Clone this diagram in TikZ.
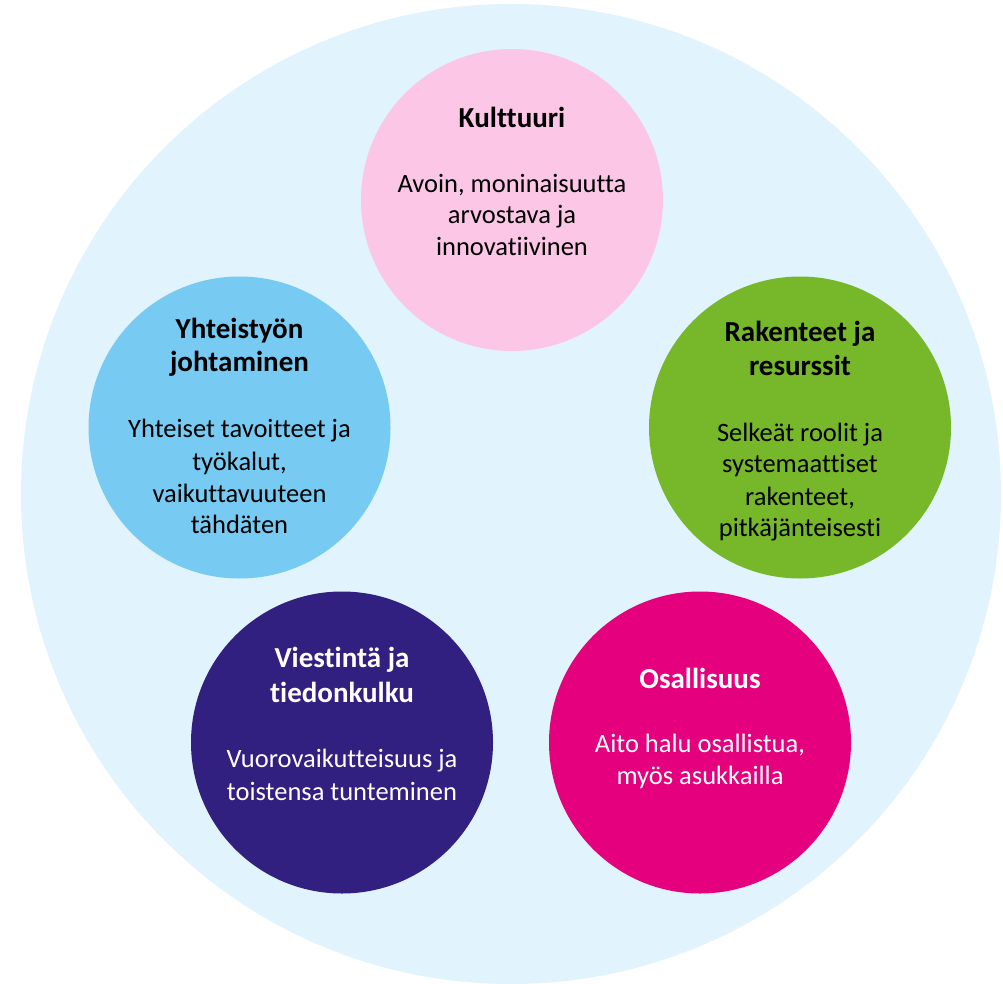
\documentclass[tikz,border=0pt]{standalone}
\usepackage{fontspec}
\setmainfont{Carlito}[Ligatures={NoCommon}]
\definecolor{bgblue}{HTML}{E1F3FC}
\definecolor{cpink}{HTML}{FCC6E6}
\definecolor{cblue}{HTML}{77CAF1}
\definecolor{cgreen}{HTML}{76B82A}
\definecolor{cmagenta}{HTML}{E5007D}
\definecolor{cpurple}{HTML}{312080}
\tikzset{
  bubble/.style={circle, minimum size=302pt, inner sep=0pt, draw=none},
  ttl/.style={anchor=base, inner sep=0pt, font=\fontsize{29pt}{34pt}\selectfont\bfseries},
  bdy/.style={anchor=base, inner sep=0pt, font=\fontsize{26.5pt}{32pt}\selectfont},
}
\begin{document}
\begin{tikzpicture}[x=1pt,y=-1pt]
\useasboundingbox (0,0) rectangle (1003,984);
\node[circle, minimum size=980pt, inner sep=0pt, fill=bgblue] (outer) at (511,494) {};
% Kulttuuri
\node[bubble, fill=cpink] (kul) at (512,200) {};
\node[ttl] (kul-t) at (512,127.3) {Kulttuuri};
\node[bdy] (kul-1) at (512,192.3) {Avoin, moninaisuutta};
\node[bdy] (kul-2) at (512,224) {arvostava ja};
\node[bdy] (kul-3) at (512,255.7) {innovatiivinen};
% Yhteistyon
\node[bubble, fill=cblue] (yht) at (239.5,427.5) {};
\node[ttl] (yht-t1) at (239.5,338.3) {Yhteistyön};
\node[ttl] (yht-t2) at (239.5,371.7) {johtaminen};
\node[bdy] (yht-1) at (239.5,437.7) {Yhteiset tavoitteet ja};
\node[bdy] (yht-2) at (239.5,470) {työkalut,};
\node[bdy] (yht-3) at (239.5,502.3) {vaikuttavuuteen};
\node[bdy] (yht-4) at (239.5,533.3) {tähdäten};
% Rakenteet
\node[bubble, fill=cgreen] (rak) at (800,427.5) {};
\node[ttl] (rak-t1) at (800,341.7) {Rakenteet ja};
\node[ttl] (rak-t2) at (800,375) {resurssit};
\node[bdy] (rak-1) at (800,441) {Selkeät roolit ja};
\node[bdy] (rak-2) at (800,472.7) {systemaattiset};
\node[bdy] (rak-3) at (800,505) {rakenteet,};
\node[bdy] (rak-4) at (800,536.7) {pitkäjänteisesti};
% Viestinta
\node[bubble, fill=cpurple] (vie) at (342,742.5) {};
\node[ttl, text=white] (vie-t1) at (342,667.3) {Viestintä ja};
\node[ttl, text=white] (vie-t2) at (342,702.5) {tiedonkulku};
\node[bdy, text=white] (vie-1) at (342,767.3) {Vuorovaikutteisuus ja};
\node[bdy, text=white] (vie-2) at (342,800) {toistensa tunteminen};
% Osallisuus
\node[bubble, fill=cmagenta] (osa) at (700,742.5) {};
\node[ttl, text=white] (osa-t) at (700,688.3) {Osallisuus};
\node[bdy, text=white] (osa-1) at (700,752.7) {Aito halu osallistua,};
\node[bdy, text=white] (osa-2) at (700,784.3) {myös asukkailla};
\end{tikzpicture}
\end{document}
